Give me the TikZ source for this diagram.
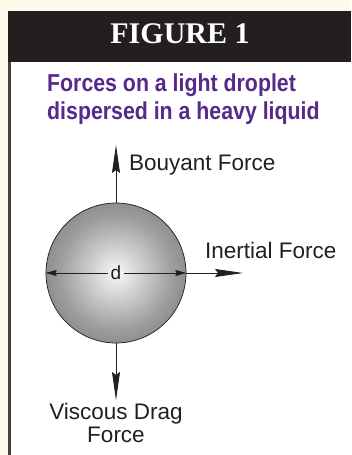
\documentclass[tikz,border=0pt]{standalone}
\usepackage{fontspec}
\setmainfont{Liberation Serif}
\newfontfamily\labelfont{Liberation Sans}
\newfontfamily\titlefont[FakeStretch=0.87]{Liberation Sans}
\usetikzlibrary{positioning, arrows.meta}
\definecolor{cream}{RGB}{255, 251, 234}
\definecolor{banner}{RGB}{35, 31, 32}
\definecolor{titlepurple}{RGB}{88, 40, 140}
\pgfdeclareradialshading{droplet}{\pgfpoint{0bp}{0bp}}{%
  color(0bp)=(black!3); color(20bp)=(black!38); color(50bp)=(black!74)}

\begin{document}
\begin{tikzpicture}[
  x=1pt, y=-1pt,
  every node/.style={inner sep=0pt},
  forcetext/.style={font=\labelfont\fontsize{22.5}{23}\selectfont, text=banner},
  force/.style={-{Stealth[length=28pt, width=8pt, inset=3pt]}, line width=0.8pt, draw=banner},
  dim/.style={-{Stealth[length=11pt, width=6pt, inset=1pt]}, line width=0.7pt, draw=banner},
]
  \useasboundingbox (0,0) rectangle (351,455);
  % panel and banner
  \fill[cream] (0,0) rectangle (351,455);
  \fill[white] (8,62) rectangle (351,455);
  \fill[banner] (8,11) rectangle (351,62);
  \draw[banner!85, line width=3pt] (9.5,62) -- (9.5,455);

  \node[text=white, font=\bfseries\fontsize{30}{30}\selectfont, anchor=base] (fig) at (180,43) {FIGURE 1};
  \node[text=titlepurple, font=\titlefont\bfseries\fontsize{24.5}{28}\selectfont,
        align=left, anchor=north west] (title) at (47,74)
        {Forces on a light droplet\\dispersed in a heavy liquid};

  % droplet
  \node[circle, minimum size=140pt, draw=banner, line width=0.7pt, shade, shading=droplet] (drop) at (116,273) {};
  \node[inner sep=3pt, text=banner, font=\labelfont\fontsize{19}{19}\selectfont] (d) at (drop.center) {d};
  \draw[dim] (d) -- (drop.west);
  \draw[dim] (d) -- (drop.east);

  % forces
  \coordinate (uptip) at (116,145);
  \coordinate (righttip) at (243,273);
  \coordinate (downtip) at (116,400);
  \draw[force] (drop.north) -- (uptip);
  \draw[force] (drop.east) -- (righttip);
  \draw[force] (drop.south) -- (downtip);

  \node[forcetext, anchor=base west] (buoyant) at (129,170) {Bouyant Force};
  \node[forcetext, anchor=base west] (inertial) at (205,258) {Inertial Force};
  \node[forcetext, align=center, below=3pt of downtip] (viscous) {Viscous Drag\\Force};
\end{tikzpicture}
\end{document}
